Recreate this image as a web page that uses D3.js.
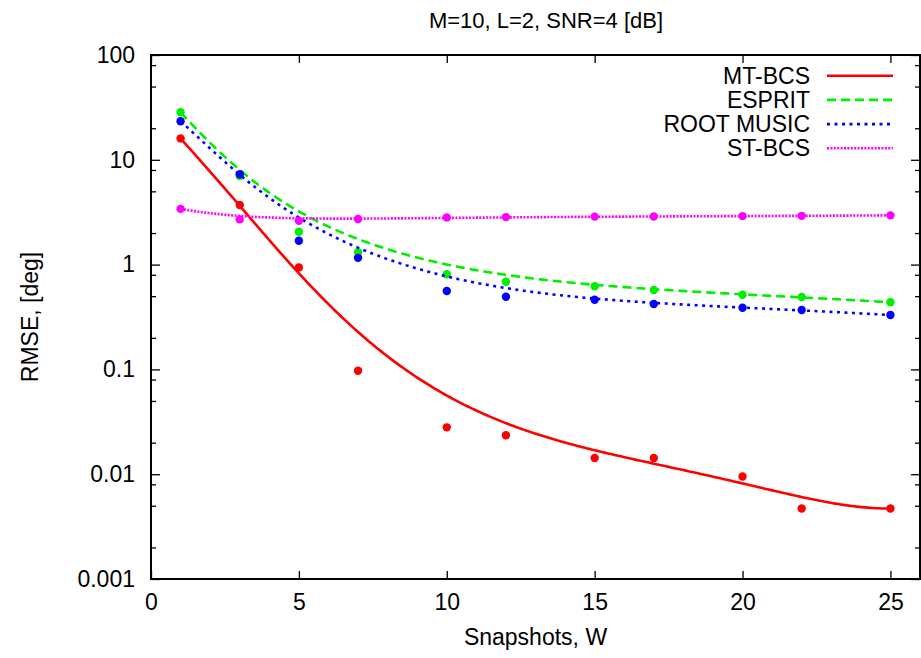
<!DOCTYPE html>
<html>
<head>
    <meta charset="UTF-8">
    <title>RMSE vs snapshots</title>
    <style>
        body { margin: 0; background: #fff; }
        svg { display: block; }
        text { font-family: 'Liberation Sans', Arial, sans-serif; fill: #000; }
    </style>
</head>
<body>
    <svg width="921" height="658"></svg>
    <script src="https://d3js.org/d3.v7.min.js"></script>
    <script>
        // values
        const snapshots = [1, 3, 5, 7, 10, 12, 15, 17, 20, 22, 25];
        const mtBcs = [16.0, 3.7, 0.94, 0.097, 0.028, 0.0235, 0.0143, 0.0143, 0.0095, 0.0047, 0.0047];
        const esprit = [28.4, 7.0, 2.06, 1.31, 0.81, 0.687, 0.621, 0.573, 0.516, 0.491, 0.437];
        const rootMusic = [23.3, 7.27, 1.69, 1.16, 0.56, 0.494, 0.462, 0.421, 0.388, 0.369, 0.33];
        const stBcs = [3.4, 2.7, 2.62, 2.72, 2.82, 2.84, 2.87, 2.88, 2.9, 2.92, 2.95];

        const seriesNames = ["MT-BCS", "ESPRIT", "ROOT MUSIC", "ST-BCS"];
        const xTicks = [0, 5, 10, 15, 20, 25];
        const yTicks = [0.001, 0.01, 0.1, 1, 10, 100];
        const yTickLabels = ["0.001", "0.01", "0.1", "1", "10", "100"];
        const yMinorSteps = [2, 5, 8];

        let width = 921, height = 658;
        let margin = { left: 151, right: 1, top: 55, bottom: 79 };
        let fontSize = "23px";
        let svg = d3.select("svg");

        let x = d3.scaleLinear().domain([0, 26]).range([margin.left, width - margin.right]);
        let y = d3.scaleLog().domain([0.001, 100]).range([height - margin.bottom, margin.top]);

        let minorTicks = [];
        yTicks.slice(0, -1).forEach(d => yMinorSteps.forEach(m => minorTicks.push(d * m)));

        // gnuplot "smooth bezier": one bezier curve using all points as control points
        function curveBezierAll(context) {
            let pts = [];
            return {
                areaStart() {}, areaEnd() {},
                lineStart() { pts = []; },
                point(px, py) { pts.push([+px, +py]); },
                lineEnd() {
                    let n = pts.length - 1;
                    for (let k = 0; k <= 300; k++) {
                        let t = k / 300;
                        let p = pts.map(q => q.slice());
                        for (let r = 1; r <= n; r++)
                            for (let i = 0; i <= n - r; i++) {
                                p[i][0] = (1 - t) * p[i][0] + t * p[i + 1][0];
                                p[i][1] = (1 - t) * p[i][1] + t * p[i + 1][1];
                            }
                        if (k === 0) context.moveTo(p[0][0], p[0][1]);
                        else context.lineTo(p[0][0], p[0][1]);
                    }
                }
            };
        }

        let series = [
            { name: seriesNames[0], values: mtBcs, color: "#ff0000", dash: null },
            { name: seriesNames[1], values: esprit, color: "#00ee00", dash: "9,5" },
            { name: seriesNames[2], values: rootMusic, color: "#0000ff", dash: "3,4.5" },
            { name: seriesNames[3], values: stBcs, color: "#ff00ff", dash: "2,1.4" }
        ];

        let line = d3.line()
            .x(d => x(d[0]))
            .y(d => y(d[1]))
            .curve(curveBezierAll);

        // axes with inward ticks on all four sides
        let bottomY = height - margin.bottom, rightX = width - margin.right;

        svg.append("g")
            .attr("transform", `translate(0,${bottomY})`)
            .call(d3.axisBottom(x).tickValues(xTicks).tickSize(-8).tickPadding(15).tickFormat(d3.format("d")));
        svg.append("g")
            .attr("transform", `translate(0,${margin.top})`)
            .call(d3.axisTop(x).tickValues(xTicks).tickSize(-8).tickFormat(""));

        svg.append("g")
            .attr("transform", `translate(${margin.left},0)`)
            .call(d3.axisLeft(y).tickValues(yTicks).tickSize(-9).tickPadding(16).tickFormat((d, i) => yTickLabels[i]));
        svg.append("g")
            .attr("transform", `translate(${margin.left},0)`)
            .call(d3.axisLeft(y).tickValues(minorTicks).tickSize(-5).tickFormat(""));
        svg.append("g")
            .attr("transform", `translate(${rightX},0)`)
            .call(d3.axisRight(y).tickValues(yTicks).tickSize(-9).tickFormat(""));
        svg.append("g")
            .attr("transform", `translate(${rightX},0)`)
            .call(d3.axisRight(y).tickValues(minorTicks).tickSize(-5).tickFormat(""));

        svg.selectAll(".domain").remove();
        svg.selectAll(".tick line").attr("stroke", "#000").attr("stroke-width", 1.3);
        svg.selectAll(".tick text").style("font-size", fontSize).attr("fill", "#000");

        // data
        series.forEach(s => {
            let pts = snapshots.map((w, i) => [w, s.values[i]]);
            svg.append("path")
                .datum(pts)
                .attr("d", line)
                .attr("fill", "none")
                .attr("stroke", s.color)
                .attr("stroke-width", 2.6)
                .attr("stroke-dasharray", s.dash);
            svg.append("g").selectAll("circle")
                .data(pts)
                .enter().append("circle")
                .attr("cx", d => x(d[0]))
                .attr("cy", d => y(d[1]))
                .attr("r", 4.2)
                .attr("fill", s.color);
        });

        // frame
        svg.append("rect")
            .attr("x", margin.left)
            .attr("y", margin.top)
            .attr("width", rightX - margin.left)
            .attr("height", bottomY - margin.top)
            .attr("fill", "none")
            .attr("stroke", "#000")
            .attr("stroke-width", 2);

        // legend
        let legend = svg.append("g");
        series.forEach((s, i) => {
            let ly = 75.7 + i * 24.2;
            legend.append("text")
                .attr("x", 810)
                .attr("y", ly)
                .attr("dy", "0.35em")
                .attr("text-anchor", "end")
                .style("font-size", fontSize)
                .text(s.name);
            legend.append("line")
                .attr("x1", 827).attr("x2", 893)
                .attr("y1", ly).attr("y2", ly)
                .attr("stroke", s.color)
                .attr("stroke-width", 2.6)
                .attr("stroke-dasharray", s.dash);
        });

        // titles
        svg.append("text")
            .attr("x", 546)
            .attr("y", 28)
            .attr("text-anchor", "middle")
            .style("font-size", "22px")
            .text("M=10, L=2, SNR=4 [dB]");
        svg.append("text")
            .attr("x", (margin.left + rightX) / 2)
            .attr("y", 645)
            .attr("text-anchor", "middle")
            .style("font-size", fontSize)
            .text("Snapshots, W");
        svg.append("text")
            .attr("transform", `translate(38,${(margin.top + bottomY) / 2}) rotate(-90)`)
            .attr("text-anchor", "middle")
            .style("font-size", fontSize)
            .text("RMSE, [deg]");
    </script>
</body>
</html>
